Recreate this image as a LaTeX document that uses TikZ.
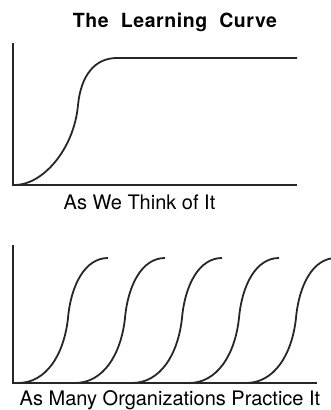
\documentclass[tikz,border=0pt]{standalone}
\usepackage{fontspec}
\setmainfont{TeX Gyre Heros}
\newfontfamily\titlefont[LetterSpace=3]{TeX Gyre Heros}
\usepackage{tikz}
\usetikzlibrary{positioning}

\begin{document}
\begin{tikzpicture}[x=1pt,y=-1pt,
  axis/.style={line width=1.6pt,black!85},
  curve/.style={line width=1.8pt,black!85},
  caption/.style={font=\fontsize{20}{21}\selectfont,anchor=base,inner sep=0pt},
  heading/.style={font=\titlefont\bfseries\fontsize{19.5}{21}\selectfont,anchor=base,inner sep=0pt}]
  \useasboundingbox (0,0) rectangle (331,410);
  \node[heading](title) at (175,27) {The\ \ Learning\ \ Curve};
  % as we think of it
  \coordinate (topo) at (13,185);
  \draw[axis] (13,43) -- (topo) -- (297,185);
  \draw[curve] (15,185) .. controls (42,185) and (74,150) .. (78,105)
    .. controls (81,75) and (95,58) .. (117,58) -- (297,58);
  \node[caption](think) at (139.5,209) {As We Think of It};
  % as many organizations practice it
  \coordinate (boto) at (13,383);
  \draw[axis] (13,245) -- (boto) -- (317,383);
  \begin{scope}
    \clip (0,0) rectangle (331,410);
    \foreach \dx in {0,57,114,171,228}
      \draw[curve,xshift=\dx] (18,383) .. controls (46,383) and (64,355) .. (68,318)
        .. controls (71,285) and (85,258) .. (108,258);
  \end{scope}
  \node[caption](practice) at (170,405) {As Many Organizations Practice It};
\end{tikzpicture}
\end{document}
